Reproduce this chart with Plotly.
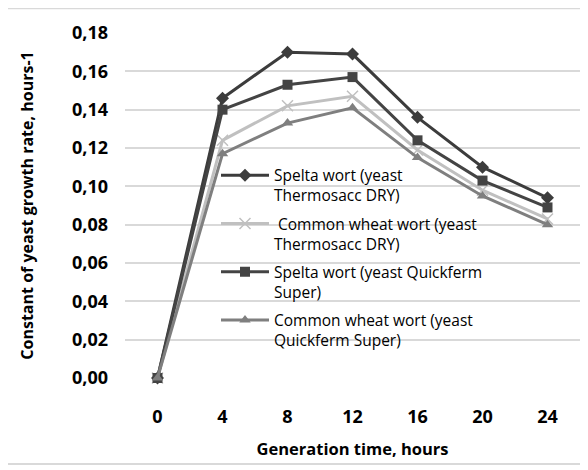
import plotly.graph_objects as go

hours = ["0", "4", "8", "12", "16", "20", "24"]
spelta_thermo = [0.0, 0.146, 0.170, 0.169, 0.136, 0.110, 0.094]
wheat_thermo = [0.0, 0.124, 0.142, 0.147, 0.119, 0.098, 0.083]
spelta_quick = [0.0, 0.140, 0.153, 0.157, 0.124, 0.103, 0.089]
wheat_quick = [0.0, 0.117, 0.133, 0.141, 0.115, 0.095, 0.080]

names = [
    "Spelta wort (yeast<br>Thermosacc DRY)",
    " Common wheat wort (yeast<br>Thermosacc DRY)",
    "Spelta wort (yeast Quickferm<br>Super)",
    "Common wheat wort (yeast<br>Quickferm Super)",
]
series = [spelta_thermo, wheat_thermo, spelta_quick, wheat_quick]
colors = ["#3c3c3c", "#c0c0c0", "#444444", "#7f7f7f"]
symbols = ["diamond", "x-thin-open", "square", "triangle-up"]
msizes = [10, 11, 10, 10]

fig = go.Figure()
for i, (nm, ys, c, s, ms) in enumerate(zip(names, series, colors, symbols, msizes)):
    marker = dict(symbol=s, size=ms, color=c)
    if s == "x-thin-open":
        marker["line"] = dict(color=c, width=1.5)
    fig.add_trace(go.Scatter(
        x=hours, y=ys, name=nm, mode="lines+markers",
        line=dict(color=c, width=3), marker=marker,
        legendgroup=str(i), cliponaxis=False,
    ))

font_main = "Open Sans"
fig.update_layout(
    width=588, height=470,
    paper_bgcolor="white", plot_bgcolor="white",
    margin=dict(l=117, r=16, t=21, b=100),
    separators=",.",
    font=dict(family=font_main, color="#000000"),
    showlegend=True,
    legend=dict(
        x=0.2, y=0.636, xanchor="left", yanchor="top",
        bgcolor="rgba(0,0,0,0)", font=dict(size=15.5, family=font_main),
        valign="top", tracegroupgap=5, itemwidth=48,
    ),
    xaxis=dict(
        type="category", range=[-0.5, 6.5],
        showgrid=False, showline=False, zeroline=False,
        ticks="", ticklabelstandoff=26,
        tickfont=dict(size=18, family=font_main, weight="bold"),
        title=dict(text="Generation time, hours", standoff=16,
                   font=dict(size=16.5, family=font_main, weight="bold")),
    ),
    yaxis=dict(
        range=[0, 0.18], dtick=0.02, tickformat=".2f",
        showgrid=True, gridcolor="#d9d9d9", gridwidth=2,
        zeroline=False, showline=False, ticks="", ticklabelstandoff=16,
        tickfont=dict(size=18, family=font_main, weight="bold"),
        title=dict(text="Constant of yeast growth rate, hours-1", standoff=34,
                   font=dict(size=16, family=font_main, weight="bold")),
    ),
    shapes=[dict(type="rect", xref="paper", yref="paper",
                 x0=-0.266, x1=1.009, y0=-0.249, y1=1.072,
                 line=dict(color="#d9d9d9", width=2), layer="below")],
)

fig.write_html("out.html")
